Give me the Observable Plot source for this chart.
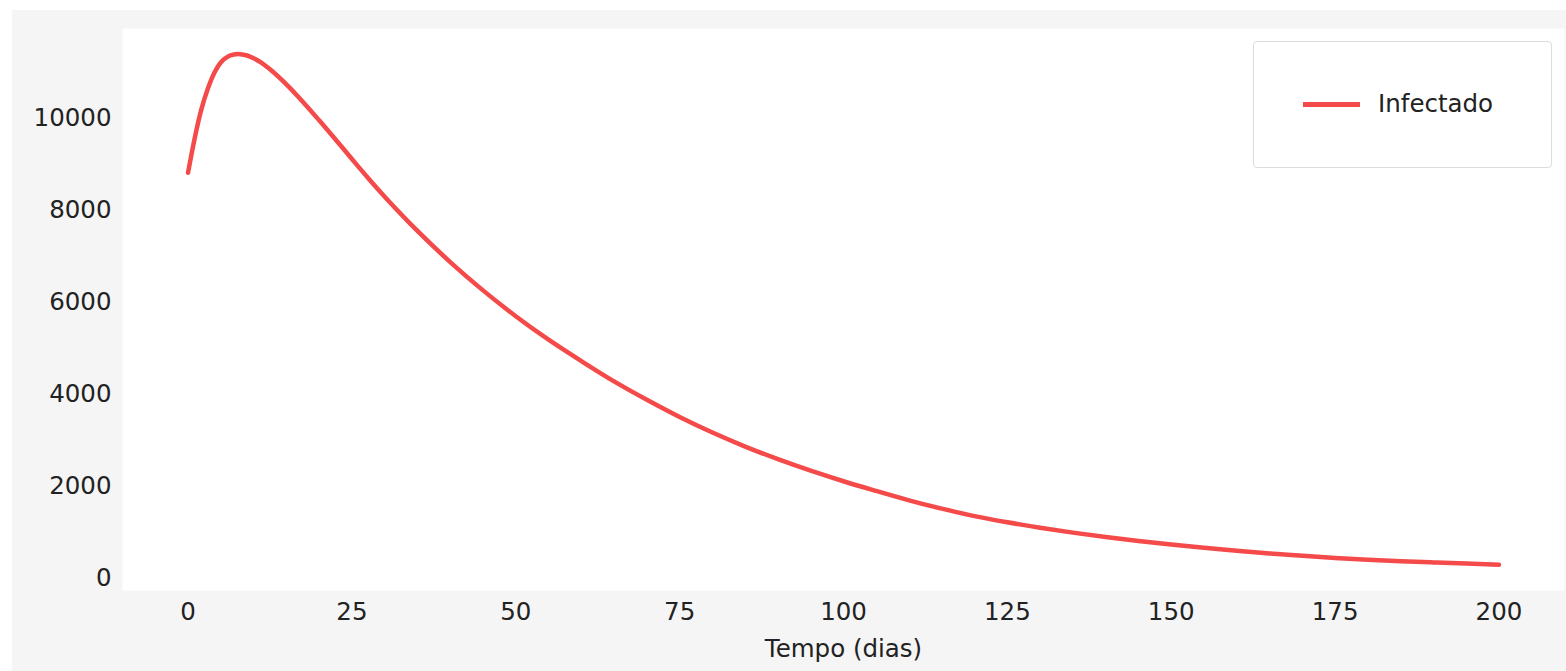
<!DOCTYPE html>
<html>
<head>
<meta charset="utf-8">
<script src="https://cdn.jsdelivr.net/npm/d3@7"></script>
<script src="https://cdn.jsdelivr.net/npm/@observablehq/plot@0.6"></script>
<style>
  html, body { margin: 0; padding: 0; background: #ffffff; }
  #fig { position: absolute; left: 12px; top: 10px; width: 1554px; height: 661px; background: #f5f5f5; }
  #fig svg { position: absolute; left: 0; top: 0; background: transparent; }
  #legend { position: absolute; left: 1241px; top: 31px; width: 299px; height: 127px;
    background: #ffffff; border: 1.5px solid #dcdcdc; border-radius: 4px; box-sizing: border-box; }
  #legend .sw { position: absolute; left: 49px; top: 60px; width: 57px; height: 4.5px; background: #f44a4a; }
  #legend .lb { position: absolute; left: 124px; top: 47px; font: 24.5px "DejaVu Sans"; color: #222; line-height: 30px; }
</style>
</head>
<body>
<div id="fig"></div>
<script>
const days = [0, 1, 2, 3, 4, 5, 6, 7, 8, 9, 10, 11, 12.5, 15, 17.5, 20, 22.5, 25, 27.5, 30, 35, 40, 45, 50, 55, 60, 65, 70, 75, 80, 85, 90, 95, 100, 105, 110, 115, 120, 125, 130, 135, 140, 145, 150, 155, 160, 165, 170, 175, 180, 185, 190, 195, 200];
const infected = [8820, 9560, 10180, 10640, 10990, 11220, 11340, 11393, 11399, 11370, 11312, 11232, 11070, 10742, 10365, 9960, 9542, 9118, 8699, 8298, 7553, 6875, 6259, 5697, 5186, 4721, 4278, 3877, 3503, 3165, 2860, 2584, 2334, 2105, 1894, 1690, 1508, 1346, 1212, 1094, 987, 891, 804, 726, 655, 592, 534, 482, 435, 396, 364, 338, 313, 290];
const xTicks = [0, 25, 50, 75, 100, 125, 150, 175, 200];
const yTicks = [0, 2000, 4000, 6000, 8000, 10000];
const seriesName = "Infectado";
const xLabel = "Tempo (dias)";

const data = days.map((d, i) => ({day: d, value: infected[i]}));

const chart = Plot.plot({
  width: 1554,
  height: 661,
  marginLeft: 110,
  marginRight: 2,
  marginTop: 18,
  marginBottom: 81,
  style: {fontFamily: "DejaVu Sans", fontSize: "24.5px", color: "#222", background: "transparent"},
  x: {domain: [-10, 210]},
  y: {domain: [-273, 11958]},
  marks: [
    Plot.frame({fill: "white", stroke: null}),
    Plot.axisX({ticks: xTicks, tickSize: 0, tickPadding: 12, label: xLabel, labelAnchor: "center", labelOffset: 66, labelArrow: "none", fontSize: 24.5}),
    Plot.axisY({ticks: yTicks, tickSize: 0, tickPadding: 11, label: null, fontSize: 24.5, tickFormat: d => String(d)}),
    Plot.line(data, {x: "day", y: "value", stroke: "#f44a4a", strokeWidth: 4.5, curve: "catmull-rom"})
  ]
});
const fig = document.getElementById("fig");
fig.appendChild(chart);
const lg = document.createElement("div");
lg.id = "legend";
lg.innerHTML = `<div class="sw"></div><div class="lb">${seriesName}</div>`;
fig.appendChild(lg);
</script>
</body>
</html>
